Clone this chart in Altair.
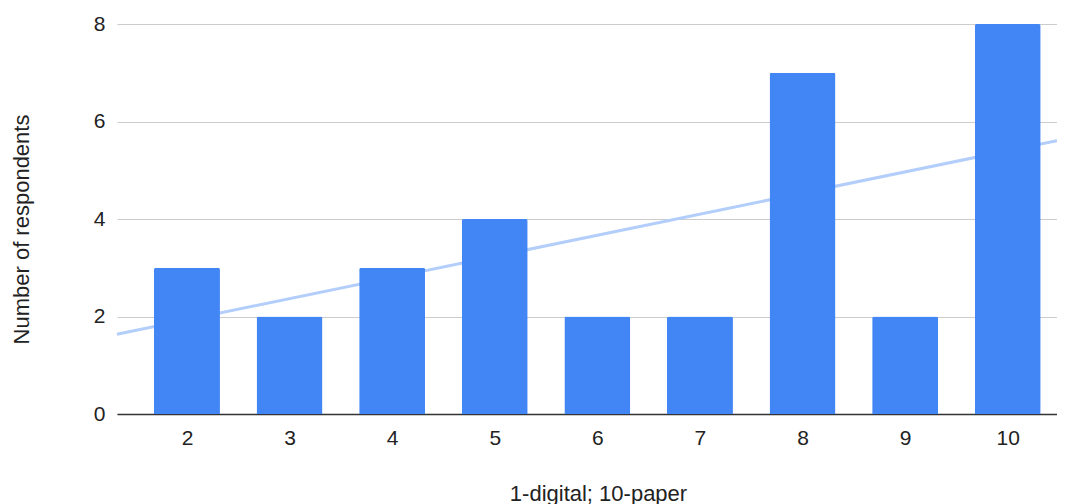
import altair as alt
import pandas as pd

scores = [2, 3, 4, 5, 6, 7, 8, 9, 10]
respondents = [3, 2, 3, 4, 2, 2, 7, 2, 8]
y_ticks = [0, 2, 4, 6, 8]
x_domain = [1.318, 10.48]

df = pd.DataFrame({"score": scores, "respondents": respondents})

FONT = "Arial, Liberation Sans, sans-serif"
TEXT = "#222222"

x_enc = alt.X(
    "score:Q",
    scale=alt.Scale(domain=x_domain, nice=False, zero=False, padding=0),
    axis=alt.Axis(
        values=scores, format="d", title="1-digital; 10-paper",
        grid=False, ticks=False, tickSize=0,
        labelPadding=30, labelBaseline="alphabetic", labelFontSize=21,
        labelColor=TEXT, labelFont=FONT,
        domainColor="#333333", domainWidth=1.5,
        titleFontSize=22, titleColor=TEXT, titleFont=FONT, titleFontWeight="normal",
        titleX=481, titleY=86, titleAlign="center", titleBaseline="alphabetic",
    ),
)
y_enc = alt.Y(
    "respondents:Q",
    scale=alt.Scale(domain=[0, 8], nice=False),
    axis=alt.Axis(
        values=y_ticks, title="Number of respondents",
        grid=True, gridColor="#cccccc", gridWidth=1.2,
        domain=False, ticks=False, tickSize=0,
        labelPadding=12, labelFontSize=21, labelColor=TEXT, labelFont=FONT,
        titleFontSize=22, titleColor=TEXT, titleFont=FONT, titleFontWeight="normal",
        titleX=-89, titleY=205, titleAlign="center", titleBaseline="alphabetic",
    ),
)

base = alt.Chart(df)

trend = base.transform_regression(
    "score", "respondents", extent=x_domain
).mark_line(color="#b3cefb", strokeWidth=3).encode(x=x_enc, y=y_enc)

bars = base.mark_bar(
    size=66, color="#4285F4", cornerRadiusTopLeft=2, cornerRadiusTopRight=2
).encode(x=x_enc, y=y_enc)

chart = alt.layer(trend, bars).properties(
    width=940, height=390,
    autosize=alt.AutoSizeParams(type="none"),
    padding={"left": 109, "top": 16, "right": 0, "bottom": 90},
).configure_view(stroke=None)

chart.save("out.html", embed_options={"renderer": "svg", "actions": False})
